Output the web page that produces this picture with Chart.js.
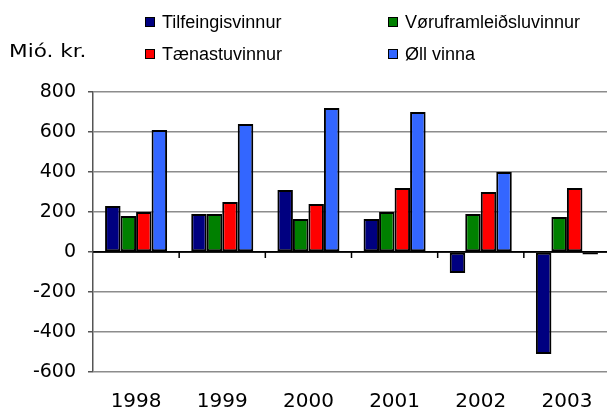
<!DOCTYPE html>
<html>
<head>
<meta charset="utf-8">
<script src="https://cdn.jsdelivr.net/npm/chart.js@4/dist/chart.umd.min.js"></script>
<style>
  html, body { margin: 0; padding: 0; background: #fff; overflow: hidden; }
  #wrap { position: relative; width: 607px; height: 412px; overflow: hidden; }
  #box { position: absolute; left: 0; top: 0; width: 610px; height: 412px; }
  .unit { position: absolute; left: 9px; top: 40px; font: 18px "DejaVu Sans", sans-serif; color: #000; transform: scaleX(1.2); transform-origin: left top; white-space: nowrap; }
  .lg { position: absolute; font: 18px "Liberation Sans", Arial, sans-serif; color: #000; white-space: nowrap; line-height: 20px; }
  .lg i { position: absolute; left: -17px; top: 5px; width: 8px; height: 8px; border: 1px solid #000; }
</style>
</head>
<body>
<div id="wrap">
  <div id="box"><canvas id="chart"></canvas></div>
  <div class="unit">Mió. kr.</div>
  <div id="legend"></div>
</div>
<script>
const years = ["1998", "1999", "2000", "2001", "2002", "2003"];
const seriesNames = ["Tilfeingisvinnur", "Vøruframleiðsluvinnur", "Tænastuvinnur", "Øll vinna"];
const tilfeingis = [230, 190, 310, 165, -105, -510];
const voruframleidslu = [180, 190, 165, 200, 190, 175];
const taenastu = [200, 250, 240, 320, 300, 320];
const ollVinna = [610, 640, 720, 700, 400, -12];
const colors = ["#000080", "#008000", "#ff0000", "#3366ff"];
const yTicks = [-600, -400, -200, 0, 200, 400, 600, 800];

// legend in two columns
const legendPos = [[162, 12], [405, 12], [162, 44], [405, 44]];
const legend = document.getElementById("legend");
seriesNames.forEach(function(name, i) {
  var el = document.createElement("div");
  el.className = "lg";
  el.style.left = legendPos[i][0] + "px";
  el.style.top = legendPos[i][1] + "px";
  el.innerHTML = '<i style="background:' + colors[i] + '"></i>' + name;
  legend.appendChild(el);
});

// zero line with category tick marks below it
const zeroAxis = {
  id: "zeroAxis",
  afterDatasetsDraw(chart) {
    var ctx = chart.ctx, x = chart.scales.x, y = chart.scales.y;
    var y0 = y.getPixelForValue(0);
    ctx.save();
    ctx.strokeStyle = "#000";
    ctx.lineWidth = 1.5;
    ctx.beginPath();
    ctx.moveTo(chart.chartArea.left, y0);
    ctx.lineTo(chart.chartArea.right, y0);
    for (var i = 1; i < years.length; i++) {
      var bx = (x.getPixelForValue(i - 1) + x.getPixelForValue(i)) / 2;
      ctx.moveTo(bx, y0);
      ctx.lineTo(bx, y0 + 6);
    }
    ctx.stroke();
    ctx.restore();
  }
};

const datasets = [tilfeingis, voruframleidslu, taenastu, ollVinna].map(function(vals, i) {
  return {
    label: seriesNames[i],
    data: vals,
    backgroundColor: colors[i],
    borderColor: "#000",
    borderWidth: 2,
    borderSkipped: false,
    barPercentage: 1,
    categoryPercentage: 0.72
  };
});

new Chart(document.getElementById("chart"), {
  type: "bar",
  data: { labels: years, datasets: datasets },
  options: {
    responsive: true,
    maintainAspectRatio: false,
    animation: false,
    layout: { padding: { top: 92, left: 0, right: 0, bottom: 0 } },
    plugins: { legend: { display: false }, tooltip: { enabled: false } },
    scales: {
      x: {
        grid: { display: false },
        border: { display: false },
        ticks: { color: "#000", padding: 10, font: { family: "DejaVu Sans", size: 20 } },
        afterFit: function(s) { s.height = 40; }
      },
      y: {
        min: -600,
        max: 800,
        afterBuildTicks: function(s) { s.ticks = yTicks.map(function(v) { return { value: v }; }); },
        grid: {
          color: function(c) { return c.tick && c.tick.value === 0 ? "#000" : "#8c8c8c"; },
          lineWidth: 1.5,
          tickLength: 5,
          tickColor: "#555"
        },
        border: { display: true, color: "#555", width: 1.5 },
        ticks: { color: "#000", padding: 12, font: { family: "DejaVu Sans", size: 19 } },
        afterFit: function(s) { s.width = 93; }
      }
    }
  },
  plugins: [zeroAxis]
});
</script>
</body>
</html>
